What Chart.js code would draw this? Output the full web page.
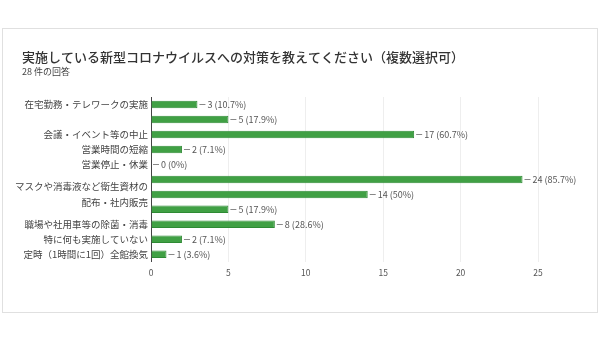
<!DOCTYPE html>
<html>
<head>
<meta charset="utf-8">
<script src="https://cdn.jsdelivr.net/npm/chart.js@4.4.1/dist/chart.umd.min.js"></script>
<style>
  html, body { margin: 0; padding: 0; background: #fff; }
  #wrap { position: relative; width: 600px; height: 343px; }
  #card { position: absolute; left: 2px; top: 28px; width: 594px; height: 283px; border: 1px solid #e0e0e0; }
  #c { position: absolute; left: 0; top: 0; }
</style>
</head>
<body>
<div id="wrap">
  <div id="card"></div>
  <canvas id="c" width="600" height="343"></canvas>
</div>
<script>
// データ（回答数）
const titleText = '実施している新型コロナウイルスへの対策を教えてください（複数選択可）';
const subtitleText = '28 件の回答';
const categories = [
    '在宅勤務・テレワークの実施',
    '',
    '会議・イベント等の中止',
    '営業時間の短縮',
    '営業停止・休業',
    '',
    ['マスクや消毒液など衛生資材の', '配布・社内販売'],
    '',
    '職場や社用車等の除菌・消毒',
    '特に何も実施していない',
    '定時（1時間に1回）全館換気'
];
const counts = [3, 5, 17, 2, 0, 24, 14, 5, 8, 2, 1];
const pctLabels = ['10.7%', '17.9%', '60.7%', '7.1%', '0%', '85.7%', '50%', '17.9%', '28.6%', '7.1%', '3.6%'];
const xTicks = [0, 5, 10, 15, 20, 25];

const FONT = '"Noto Sans CJK JP", "Noto Sans", sans-serif';

// タイトルと回答数（左寄せ、カード内の位置に合わせる）
const header = {
    id: 'header',
    afterDraw(chart) {
        const ctx = chart.ctx;
        ctx.save();
        ctx.textBaseline = 'middle';
        ctx.textAlign = 'left';
        ctx.fillStyle = '#333';
        ctx.font = '500 13px ' + FONT;
        ctx.fillText(titleText, 22, 57);
        ctx.fillStyle = '#444';
        ctx.font = '9px ' + FONT;
        ctx.fillText(subtitleText, 22, 72);
        ctx.restore();
    }
};

// バーの右に「— 3 (10.7%)」を描く
const valueLabels = {
    id: 'valueLabels',
    afterDatasetsDraw(chart) {
        const ctx = chart.ctx;
        const meta = chart.getDatasetMeta(0);
        ctx.save();
        ctx.font = '9px ' + FONT;
        ctx.textBaseline = 'middle';
        ctx.fillStyle = '#555';
        ctx.strokeStyle = '#888';
        ctx.lineWidth = 1;
        meta.data.forEach(function (bar, i) {
            const x = bar.x + 2;
            const y = Math.round(bar.y) + 0.5;
            ctx.beginPath();
            ctx.moveTo(x, y);
            ctx.lineTo(x + 6, y);
            ctx.stroke();
            ctx.fillText(counts[i] + ' (' + pctLabels[i] + ')', x + 8, y);
        });
        ctx.restore();
    }
};

const chart = new Chart(document.getElementById('c').getContext('2d'), {
    type: 'bar',
    data: {
        labels: categories,
        datasets: [{
            data: counts,
            backgroundColor: '#40a044',
            borderColor: '#2e8a34',
            borderWidth: 1,
            barPercentage: 0.5,
            categoryPercentage: 1
        }]
    },
    options: {
        indexAxis: 'y',
        responsive: false,
        animation: false,
        layout: { padding: { left: 0, right: 62, top: 97, bottom: 59 } },
        plugins: {
            legend: { display: false },
            tooltip: { enabled: false }
        },
        scales: {
            x: {
                min: 0,
                max: 25,
                afterBuildTicks: function (scale) {
                    scale.ticks = xTicks.map(function (v) { return { value: v }; });
                },
                grid: { color: '#eeeeee', drawTicks: false },
                border: { display: false },
                ticks: { color: '#555', padding: 6, font: { family: FONT, size: 8.5 } }
            },
            y: {
                afterFit: function (scale) { scale.width = 151; },
                grid: { display: false, drawTicks: false },
                border: { display: true, color: '#444', width: 1 },
                ticks: {
                    autoSkip: false,
                    color: '#444',
                    padding: 3,
                    font: { family: FONT, size: 9.5, lineHeight: 1.7 }
                }
            }
        }
    },
    plugins: [valueLabels, header]
});
</script>
</body>
</html>
